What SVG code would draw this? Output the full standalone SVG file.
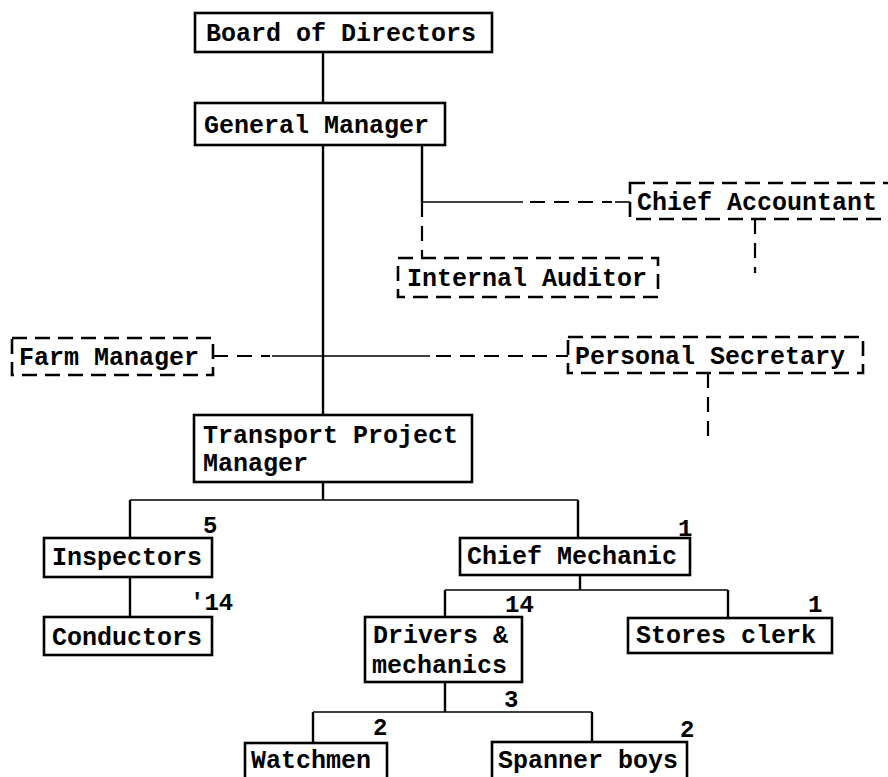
<svg xmlns="http://www.w3.org/2000/svg" width="888" height="777" viewBox="0 0 888 777">
<style>
.box{fill:#fff;stroke:#000;stroke-width:2.6}
.dbox{fill:#fff;stroke:#000;stroke-width:2.6;stroke-dasharray:15 8}
.t{font-family:"Liberation Mono","Courier New",monospace;font-size:25px;font-weight:bold;fill:#000}
.n{font-family:"Liberation Mono","Courier New",monospace;font-size:24px;font-weight:bold;fill:#000}
.ln{stroke:#000;stroke-width:2.4;fill:none}
.dl{stroke:#000;stroke-width:2.2;fill:none;stroke-dasharray:15 9}
.thin{stroke:#000;stroke-width:1.6;fill:none}
</style>
<rect width="888" height="777" fill="#fff"/>
<g id="connectors">
<line class="ln" x1="323" y1="52" x2="323" y2="103"/>
<line class="ln" x1="323" y1="145" x2="323" y2="415"/>
<line class="ln" x1="422" y1="145" x2="422" y2="202"/>
<line class="thin" x1="422" y1="202" x2="523" y2="202"/>
<line class="dl" x1="530" y1="202" x2="612" y2="202"/>
<line class="thin" x1="615" y1="202" x2="630" y2="202"/>
<line class="dl" x1="422" y1="202" x2="422" y2="258"/>
<line class="dl" x1="755" y1="219" x2="755" y2="273"/>
<line class="dl" x1="213" y1="356" x2="270" y2="356"/>
<line class="thin" x1="272" y1="356" x2="430" y2="356"/>
<line class="dl" x1="436" y1="356" x2="568" y2="356"/>
<line class="dl" x1="708" y1="373" x2="708" y2="445"/>
<line class="ln" x1="323" y1="482" x2="323" y2="500"/>
<line class="thin" x1="130" y1="500" x2="578" y2="500"/>
<line class="ln" x1="130" y1="500" x2="130" y2="538"/>
<line class="ln" x1="578" y1="500" x2="578" y2="538"/>
<line class="ln" x1="130" y1="577" x2="130" y2="617"/>
<line class="ln" x1="580" y1="575" x2="580" y2="590"/>
<line class="thin" x1="445" y1="590" x2="728" y2="590"/>
<line class="ln" x1="445" y1="590" x2="445" y2="617"/>
<line class="ln" x1="728" y1="590" x2="728" y2="618"/>
<line class="ln" x1="445" y1="682" x2="445" y2="712"/>
<line class="thin" x1="313" y1="712" x2="592" y2="712"/>
<line class="ln" x1="313" y1="712" x2="313" y2="743"/>
<line class="ln" x1="592" y1="712" x2="592" y2="742"/>
</g>
<g id="board">
<rect class="box" x="195" y="13" width="297" height="39"/>
<text class="t" x="206" y="41">Board of Directors</text>
</g>
<g id="general-manager">
<rect class="box" x="195" y="103" width="250" height="42"/>
<text class="t" x="204" y="133">General Manager</text>
</g>
<g id="chief-accountant">
<rect class="dbox" x="630" y="183" width="280" height="36"/>
<text class="t" x="637" y="210">Chief Accountant</text>
</g>
<g id="internal-auditor">
<rect class="dbox" x="398" y="258" width="260" height="39"/>
<text class="t" x="407" y="286">Internal Auditor</text>
</g>
<g id="farm-manager">
<rect class="dbox" x="12" y="338" width="201" height="37"/>
<text class="t" x="19" y="365">Farm Manager</text>
</g>
<g id="personal-secretary">
<rect class="dbox" x="568" y="337" width="295" height="36"/>
<text class="t" x="575" y="364">Personal Secretary</text>
</g>
<g id="transport-project-manager">
<rect class="box" x="194" y="415" width="278" height="67"/>
<text class="t" x="203" y="443">Transport Project</text>
<text class="t" x="203" y="471">Manager</text>
</g>
<g id="inspectors">
<rect class="box" x="44" y="538" width="168" height="39"/>
<text class="t" x="52" y="565">Inspectors</text>
<text class="n" x="203" y="533">5</text>
</g>
<g id="conductors">
<rect class="box" x="44" y="617" width="168" height="38"/>
<text class="t" x="52" y="645">Conductors</text>
<text class="n" x="190" y="610">'14</text>
</g>
<g id="chief-mechanic">
<rect class="box" x="460" y="538" width="230" height="37"/>
<text class="t" x="467" y="564">Chief Mechanic</text>
<text class="n" x="678" y="536">1</text>
</g>
<g id="drivers-mechanics">
<rect class="box" x="365" y="617" width="157" height="65"/>
<text class="t" x="373" y="643">Drivers &amp;</text>
<text class="t" x="372" y="673">mechanics</text>
<text class="n" x="505" y="612">14</text>
</g>
<g id="stores-clerk">
<rect class="box" x="628" y="618" width="204" height="35"/>
<text class="t" x="636" y="643">Stores clerk</text>
<text class="n" x="808" y="612">1</text>
</g>
<g id="watchmen">
<rect class="box" x="245" y="743" width="142" height="40"/>
<text class="t" x="251" y="768">Watchmen</text>
<text class="n" x="373" y="735">2</text>
<text class="n" x="504" y="707">3</text>
</g>
<g id="spanner-boys">
<rect class="box" x="492" y="742" width="195" height="41"/>
<text class="t" x="498" y="768">Spanner boys</text>
<text class="n" x="680" y="737">2</text>
</g>
</svg>
